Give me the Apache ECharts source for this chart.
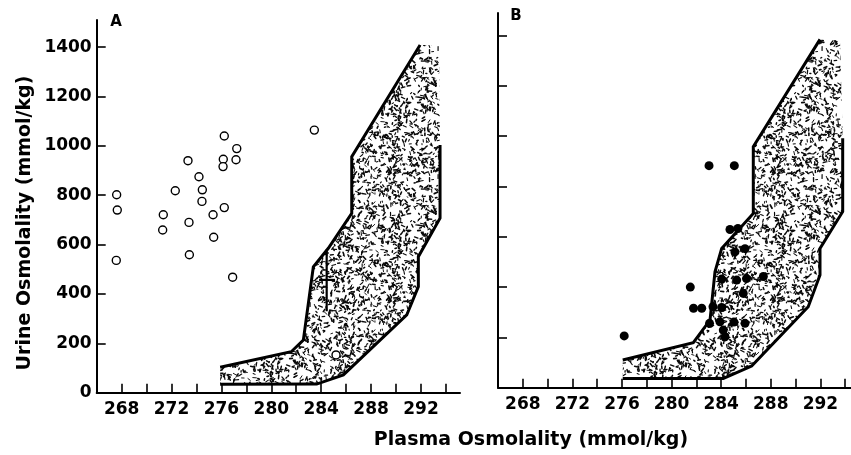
<!DOCTYPE html>
<html>
<head>
<meta charset="utf-8">
<script src="https://cdn.jsdelivr.net/npm/echarts@6/dist/echarts.min.js"></script>
<style>
  html, body { margin: 0; padding: 0; background: #fff; }
  #chart { width: 851px; height: 455px; }
</style>
</head>
<body>
<div id="chart"></div>
<script>
// ---- Panel A: open circles (plasma, urine osmolality) ----
const panelAPoints = [
  [276.23, 1040], [277.23, 989], [273.32, 940], [276.15, 946], [277.17, 944],
  [276.13, 916], [274.2, 875], [267.6, 802], [272.3, 818], [274.47, 822],
  [274.44, 775], [267.65, 740], [276.23, 750], [271.34, 721], [275.33, 721],
  [273.4, 690], [271.29, 659], [275.38, 630], [267.57, 536], [273.43, 559],
  [276.9, 468], [283.45, 1064], [285.19, 153]
];
// mean with SD bars: [x, y, xLow, xHigh, yLow, yHigh]
const panelAMeanSD = [[284.44, 457, 283.83, 285.11, 330, 580]];

// Panel A normal range band edges
const bandAUpper = [
  [275.9, 103], [281.6, 166], [282.57, 213], [283.37, 510], [284.57, 585],
  [286.45, 727], [286.45, 956], [291.93, 1409]
];
const bandALower = [
  [275.9, 34], [283.64, 35], [285.78, 72], [290.86, 315], [291.79, 429.5],
  [291.79, 551], [293.53, 707], [293.53, 1004]
];
const bandACorner = [293.45, 1409];

// ---- Panel B: filled circles ----
const panelBPoints = [
  [283.02, 883], [285.06, 883], [284.71, 629], [285.35, 633], [285.11, 540],
  [285.92, 553], [281.51, 400], [284.04, 432], [285.25, 428], [286.04, 434],
  [287.4, 442], [285.78, 375], [281.77, 316], [282.43, 316], [283.34, 322],
  [284.04, 319], [283.06, 256], [283.9, 262], [284.17, 229], [284.31, 202],
  [285.03, 261], [285.92, 256], [276.18, 206]
];

const bandBUpper = [
  [276.06, 110], [281.75, 179], [283.1, 269], [283.5, 461], [284.04, 554],
  [286.59, 693], [286.59, 958], [291.97, 1385]
];
const bandBLower = [
  [276.06, 37], [284.17, 37], [286.46, 86], [291.02, 322], [291.97, 448],
  [291.97, 554], [293.8, 700], [293.8, 992]
];
const bandBCorner = [293.58, 1385];

// ---- Axis ticks and labels ----
const xTickValues = [268, 270, 272, 274, 276, 278, 280, 282, 284, 286, 288, 290, 292, 294];
const xLabelValues = [268, 272, 276, 280, 284, 288, 292];
const yTickValues = [200, 400, 600, 800, 1000, 1200, 1400];
const yLabelValues = [0, 200, 400, 600, 800, 1000, 1200, 1400];

const xTitle = 'Plasma Osmolality (mmol/kg)';
const yTitle = 'Urine Osmolality (mmol/kg)';

// Speckled texture (short random dashes) used to fill the normal range band
function makeStipple() {
  const size = 128;
  const c = document.createElement('canvas');
  c.width = c.height = size;
  const ctx = c.getContext('2d');
  ctx.fillStyle = '#ffffff';
  ctx.fillRect(0, 0, size, size);
  let s = 987654321;
  const rnd = () => {
    s = (s * 1103515245 + 12345) & 0x7fffffff;
    return s / 0x7fffffff;
  };
  ctx.strokeStyle = '#0a0a0a';
  ctx.lineCap = 'round';
  for (let i = 0; i < 1250; i++) {
    const x = rnd() * size;
    const y = rnd() * size;
    const a = rnd() * Math.PI * 2;
    const len = 1 + rnd() * 3;
    ctx.lineWidth = 0.9 + rnd() * 0.8;
    for (let dx = -size; dx <= size; dx += size) {
      for (let dy = -size; dy <= size; dy += size) {
        ctx.beginPath();
        ctx.moveTo(x + dx, y + dy);
        ctx.lineTo(x + dx + Math.cos(a) * len, y + dy + Math.sin(a) * len);
        ctx.stroke();
      }
    }
  }
  return c;
}
const stipple = makeStipple();

function bandPolygon(lower, corner, upper) {
  return lower.concat([corner], upper.slice().reverse());
}

const FONT = '"DejaVu Sans", sans-serif';

function xAxisOf(gridIndex, max) {
  return {
    type: 'value', gridIndex, min: 266, max, interval: 2,
    axisLine: { show: true, onZero: false, lineStyle: { color: '#000', width: 2 } },
    axisTick: { show: true, inside: true, length: 9, customValues: xTickValues,
      lineStyle: { color: '#000', width: 1.6 } },
    axisLabel: { show: true, customValues: xLabelValues, margin: 8,
      color: '#000', fontFamily: FONT, fontWeight: 'bold', fontSize: 17,
      formatter: v => (xLabelValues.indexOf(v) >= 0 ? String(v) : '') },
    splitLine: { show: false }
  };
}
function yAxisOf(gridIndex, max, showLabels) {
  return {
    type: 'value', gridIndex, min: 0, max, interval: 200,
    axisLine: { show: true, onZero: false, lineStyle: { color: '#000', width: 2 } },
    axisTick: { show: true, inside: true, length: 9, customValues: yTickValues,
      lineStyle: { color: '#000', width: 1.6 } },
    axisLabel: { show: showLabels, customValues: yLabelValues, margin: 5,
      color: '#000', fontFamily: FONT, fontWeight: 'bold', fontSize: 17,
      formatter: v => (yLabelValues.indexOf(v) >= 0 ? String(v) : '') },
    splitLine: { show: false }
  };
}

function bandSeries(idx, poly) {
  return {
    type: 'custom', xAxisIndex: idx, yAxisIndex: idx, z: 1, silent: true,
    data: poly,
    renderItem: function (params, api) {
      if (params.dataIndex !== 0) return null;
      const pts = poly.map(p => api.coord(p));
      return { type: 'polygon', shape: { points: pts },
        style: { fill: { image: stipple, repeat: 'repeat' }, stroke: null } };
    }
  };
}
function edgeSeries(idx, pts) {
  return {
    type: 'line', xAxisIndex: idx, yAxisIndex: idx, z: 3, silent: true,
    data: pts, showSymbol: false, symbol: 'none',
    lineStyle: { color: '#000', width: 3, join: 'miter' }
  };
}

const chart = echarts.init(document.getElementById('chart'), null, { renderer: 'canvas' });
chart.setOption({
  backgroundColor: '#ffffff',
  animation: false,
  grid: [
    { left: 96.7, top: 20, width: 363.3, height: 372.7 },
    { left: 498, top: 13, width: 353, height: 374.7 }
  ],
  xAxis: [xAxisOf(0, 295.13), xAxisOf(1, 294.47)],
  yAxis: [yAxisOf(0, 1510, true), yAxisOf(1, 1490, false)],
  graphic: [
    { type: 'text', x: 531, y: 440, style: { text: xTitle, font: 'bold 19px ' + FONT,
      fill: '#000', align: 'center', verticalAlign: 'middle' } },
    { type: 'text', x: 25, y: 223, rotation: Math.PI / 2, style: { text: yTitle,
      font: 'bold 19px ' + FONT, fill: '#000', align: 'center', verticalAlign: 'middle' } },
    { type: 'text', x: 116, y: 22, style: { text: 'A', font: 'bold 15px ' + FONT,
      fill: '#000', align: 'center', verticalAlign: 'middle' } },
    { type: 'text', x: 516, y: 16, style: { text: 'B', font: 'bold 15px ' + FONT,
      fill: '#000', align: 'center', verticalAlign: 'middle' } }
  ],
  series: [
    bandSeries(0, bandPolygon(bandALower, bandACorner, bandAUpper)),
    edgeSeries(0, bandAUpper),
    edgeSeries(0, bandALower),
    {
      type: 'custom', xAxisIndex: 0, yAxisIndex: 0, z: 4, silent: true,
      data: panelAMeanSD,
      renderItem: function (params, api) {
        const c = api.coord([api.value(0), api.value(1)]);
        const xl = api.coord([api.value(2), api.value(1)]);
        const xh = api.coord([api.value(3), api.value(1)]);
        const yl = api.coord([api.value(0), api.value(4)]);
        const yh = api.coord([api.value(0), api.value(5)]);
        const st = { stroke: '#000', lineWidth: 2.2 };
        return { type: 'group', children: [
          { type: 'line', shape: { x1: xl[0], y1: c[1], x2: xh[0], y2: c[1] }, style: st },
          { type: 'line', shape: { x1: c[0], y1: yl[1], x2: c[0], y2: yh[1] }, style: st }
        ] };
      }
    },
    {
      type: 'scatter', xAxisIndex: 0, yAxisIndex: 0, z: 5, silent: true,
      data: panelAPoints, symbol: 'circle', symbolSize: 8,
      itemStyle: { color: '#fff', borderColor: '#000', borderWidth: 1.4, opacity: 1 }
    },
    bandSeries(1, bandPolygon(bandBLower, bandBCorner, bandBUpper)),
    edgeSeries(1, bandBUpper),
    edgeSeries(1, bandBLower),
    {
      type: 'scatter', xAxisIndex: 1, yAxisIndex: 1, z: 5, silent: true,
      data: panelBPoints, symbol: 'circle', symbolSize: 9,
      itemStyle: { color: '#000', opacity: 1 }
    }
  ]
});
</script>
</body>
</html>
